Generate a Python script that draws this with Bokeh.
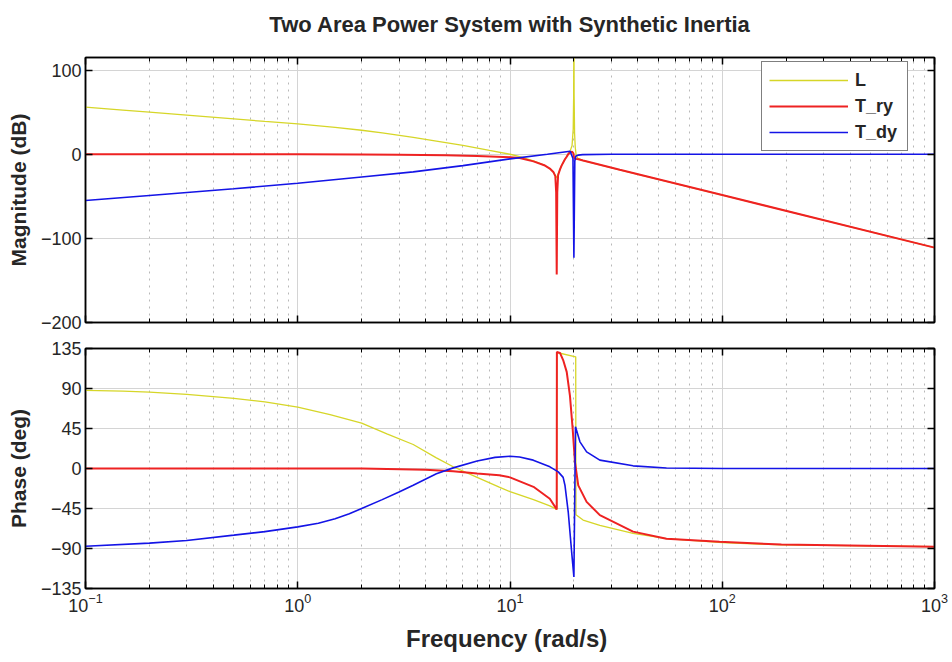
from bokeh.plotting import figure
from bokeh.layouts import column
from bokeh.models import (Range1d, FixedTicker, LogAxis, LinearAxis, Legend, LegendItem,
                          CustomJSTickFormatter)
from bokeh.embed import file_html
from bokeh.resources import INLINE

# ---------------- data ----------------
# Magnitude (dB)
w_L_mag = [0.1, 0.15, 0.2, 0.3, 0.5, 0.7, 1, 1.5, 2, 2.5, 3.5, 4.5, 6, 8, 10, 11, 12.9, 14.5, 15.4,
           16.0, 16.4, 16.6, 16.8, 17.2, 17.5, 18.15, 18.5, 18.8, 19.2, 19.6, 19.85, 19.95, 20.0,
           20.05, 20.15, 20.3, 20.5, 20.9, 22.1, 32.9, 100, 1000]
L_mag = [56, 52.5, 50, 46.5, 42, 39, 36, 32, 28.5, 25.5, 20, 15.5, 10.5, 4.5, 0, -2.5, -8, -13, -17,
         -21, -26, -28, -24, -18, -13.5, -6, -2.5, 0.5, 4, 10, 30, 70, 200,
         70, 25, 8, -1, -5, -7.5, -18.5, -48.5, -111]

w_Try_mag = [0.1, 1, 2, 3, 5, 7, 10, 11.1, 12.9, 14.5, 15.4, 16.0, 16.35, 16.5, 16.6, 16.7, 16.85,
             17.2, 17.5, 18.15, 18.5, 18.8, 19.2, 19.6, 19.9, 20.0, 20.2, 20.45, 21.0, 22.1, 32.9,
             100, 1000]
Try_mag = [0, 0, -0.2, -0.5, -1.2, -2, -3.5, -4.5, -8.5, -13, -17, -21, -26, -45, -143, -45, -25,
           -18, -13.5, -6, -3, 0, 2.5, 3, 1, -3, -5, -5.5, -6, -7.5, -18.5,
           -48.5, -111]

w_Tdy_mag = [0.1, 0.2, 0.5, 1, 2, 3.5, 6, 10, 15, 19.2, 19.8, 20.0, 20.2, 20.45, 21, 22, 30, 1000]
Tdy_mag = [-55, -49, -41, -34.5, -27, -21, -13.5, -5.5, 0, 3.5, -5, -123, -8, -2, -1, -0.5, 0, 0]

# Phase (deg)
w_L_ph = [0.1, 0.15, 0.2, 0.3, 0.5, 0.7, 1, 1.42, 2, 2.63, 3.5, 4.5, 5.4, 7, 8.9, 10, 12.9, 15.4,
          16.6, 16.63, 20.4, 20.45, 22.1, 26.5, 38, 54.6, 100, 190, 1000]
L_ph = [88, 87, 86, 83.5, 79, 75, 69, 60.7, 51, 39, 27, 12, 2, -10, -21, -26, -35, -42,
        -46, 130.5, 125.6, -52, -58, -64, -73, -79, -83.5, -86, -88]

w_Try_ph = [0.1, 2, 4, 5.4, 7, 8.9, 10, 12.9, 15.4, 16.6, 16.63, 17.2, 17.8, 18.5, 19.16, 19.73,
            20.23, 20.97, 22.96, 26.5, 38, 54.6, 97, 190, 1000]
Try_ph = [0, 0, -1.5, -3, -5.5, -7.5, -10, -20.6, -34, -46, 131, 130, 122, 108.7, 82, 45,
          7.5, -19, -37.5, -52.5, -71, -79, -82.5, -85.5, -88]

w_Tdy_ph = [0.1, 0.2, 0.3, 0.5, 0.7, 1, 1.25, 1.5, 1.75, 2, 2.5, 3, 3.5, 4.5, 5.4, 7, 8.5, 10, 11.1,
            12.87, 15.42, 16.88, 17.8, 18.15, 18.81, 19.52, 20.0, 20.35, 21.36, 22.96, 26.5, 38,
            54.6, 100, 1000]
Tdy_ph = [-87.4, -84, -81, -75, -71, -65.7, -61.5, -56.5, -51, -45, -35, -26.5, -18.8, -6, 0.7,
          8.5, 12.5, 13.8, 13, 9.4, 1.9, -3.8, -10, -18.8, -49, -94, -122, 47, 30, 18.7, 9.4, 3,
          0.5, 0, 0]

x_major = [0.1, 1, 10, 100, 1000]
mag_ticks = [-200, -100, 0, 100]
ph_ticks = [-135, -90, -45, 0, 45, 90, 135]
series_names = ["L", "T_ry", "T_dy"]
series_colors = ["#d6d628", "#ee2222", "#1414e6"]
series_widths = [1.3, 2.0, 1.6]
title_text = "Two Area Power System with Synthetic Inertia"

FONT = "Liberation Sans"
x_minor = [m * d for d in [0.1, 1, 10, 100] for m in range(2, 10)]


def hidden(ax):
    ax.formatter = CustomJSTickFormatter(code="return ''")
    ax.major_label_text_font_size = "0px"
    ax.major_label_standoff = 0


def style(ax):
    ax.axis_line_color = "black"
    ax.axis_line_width = 1.5
    ax.major_tick_in = 7
    ax.major_tick_out = 0
    ax.minor_tick_in = 4
    ax.minor_tick_out = 0
    ax.major_tick_line_color = "black"
    ax.minor_tick_line_color = "black"
    ax.major_tick_line_width = 1.5
    ax.major_label_text_font = FONT
    ax.major_label_text_font_size = "18px"
    ax.major_label_text_color = "#262626"
    ax.major_label_standoff = 4


def make_fig(height, yr, yticks, top, bottom):
    p = figure(width=952, height=height, x_axis_type="log", title=None,
               x_range=Range1d(0.1, 1000), y_range=Range1d(*yr),
               output_backend="svg", toolbar_location=None,
               min_border_left=85, min_border_right=18,
               min_border_top=top, min_border_bottom=bottom)
    p.background_fill_color = "white"
    p.border_fill_color = "white"
    p.outline_line_color = "black"
    p.outline_line_width = 1.5
    xt = FixedTicker(ticks=x_major, minor_ticks=x_minor)
    yt = FixedTicker(ticks=yticks, minor_ticks=[])
    for ax in p.below + p.left:
        ax.ticker = xt if ax in p.below else yt
        style(ax)
    p.xgrid.ticker = xt
    p.ygrid.ticker = yt
    p.xgrid.grid_line_color = "#d4d4d4"
    p.ygrid.grid_line_color = "#d4d4d4"
    p.xgrid.minor_grid_line_color = "#b8b8b8"
    p.xgrid.minor_grid_line_dash = "2 5"
    ab = LogAxis(ticker=xt)
    style(ab)
    hidden(ab)
    p.add_layout(ab, "above")
    rt = LinearAxis(ticker=yt)
    style(rt)
    hidden(rt)
    p.add_layout(rt, "right")
    for ax in p.left:
        ax.axis_label_text_font = FONT
        ax.axis_label_text_font_style = "bold"
        ax.axis_label_text_font_size = "21px"
        ax.axis_label_text_color = "#262626"
        ax.axis_label_standoff = 8
    return p


p1 = make_fig(335, (-200, 115), mag_ticks, 57, 13)
for ax in p1.below:
    hidden(ax)
p1.left[0].axis_label = "Magnitude (dB)"
top_ax = p1.above[0]
top_ax.axis_label = title_text
top_ax.axis_label_text_font = FONT
top_ax.axis_label_text_font_style = "bold"
top_ax.axis_label_text_font_size = "22px"
top_ax.axis_label_text_color = "#262626"
top_ax.axis_label_standoff = 21

mags = [(w_L_mag, L_mag), (w_Try_mag, Try_mag), (w_Tdy_mag, Tdy_mag)]
rs = []
for (w, m), c, lw in zip(mags, series_colors, series_widths):
    rs.append(p1.line(w, m, line_color=c, line_width=lw))

legend = Legend(items=[LegendItem(label=n, renderers=[r]) for n, r in zip(series_names, rs)],
                location=(676, 171), margin=0, padding=7, spacing=4,
                glyph_width=79, glyph_height=22, label_standoff=7,
                label_width=45, label_height=22,
                label_text_font=FONT, label_text_font_style="bold",
                label_text_font_size="18px", label_text_color="#262626",
                border_line_color="black", border_line_width=1.2,
                background_fill_color="white", background_fill_alpha=1.0)
p1.add_layout(legend)

p2 = make_fig(327, (-135, 135), ph_ticks, 13, 74)
p2.left[0].axis_label = "Phase (deg)"
xa = p2.below[0]
xa.axis_label = "Frequency  (rad/s)"
xa.axis_label_text_font = FONT
xa.axis_label_text_font_style = "bold"
xa.axis_label_text_font_size = "24px"
xa.axis_label_text_color = "#262626"
xa.axis_label_standoff = 10

phs = [(w_L_ph, L_ph), (w_Try_ph, Try_ph), (w_Tdy_ph, Tdy_ph)]
for (w, ph), c, lw in zip(phs, series_colors, series_widths):
    p2.line(w, ph, line_color=c, line_width=lw)

layout = column(p1, p2, spacing=0)
open("out.html", "w").write(file_html(layout, INLINE))
